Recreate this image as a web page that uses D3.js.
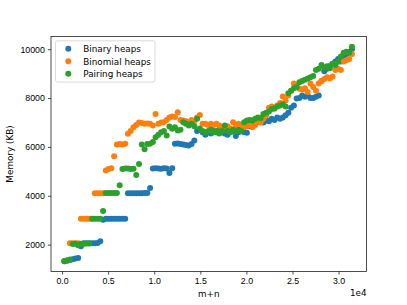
<!DOCTYPE html>
<html>
<head>
<meta charset="utf-8">
<script src="https://cdn.jsdelivr.net/npm/d3@7"></script>
<style>
  html, body { margin: 0; padding: 0; background: #fff; }
  svg { display: block; font-family: "DejaVu Sans", sans-serif; }
  .axis text { font-size: 8.8px; fill: #000; }
  .axis path, .axis line { stroke: #000; stroke-width: 0.7px; }
</style>
</head>
<body>
<svg id="chart" width="407" height="305"></svg>
<script>
// m+n sample points (shared by all three series)
const sizes = d3.range(105).map(i => 250 + 300 * i);

const binary = [
  1330, 1350, 1370, 1400, 1430, 1450, 1930, 2060, 2060, 2060,
  2060, 2060, 2070, 2140, 3020, 3060, 3060, 3060, 3060, 3060,
  3060, 3060, 3060, 4100, 4100, 4100, 4100, 4100, 4100, 4110,
  4110, 4320, 5120, 5130, 5120, 5110, 5130, 5120, 4930, 5130,
  6130, 6140, 6120, 6100, 6080, 6060, 6120, 6260, 6650, 6700,
  6600, 6500, 6600, 6550, 6650, 6600, 6700, 6600, 6550, 6500,
  6600, 6650, 6450, 6600, 6650, 6600, 6580, 6850, 6950, 7000,
  7020, 7050, 7000, 7080, 7050, 7150, 7100, 7200, 7150, 7200,
  7300, 7400, 7600, 7700, 7980, 8000, 8100, 8050, 8100, 8000,
  8000, 8050, 8100, 8700, 9100, 9200, 9300, 9400, 9500, 9600,
  9500, 9700, 9800, 9900, 10000
];

const binomial = [
  1320, 1340, 2060, 2060, 2060, 2060, 3060, 3060, 3060, 3060,
  3060, 4100, 4100, 4100, 4100, 5030, 5100, 5130, 5620, 6100,
  6120, 6100, 6130, 6540, 6650, 6800, 6900, 7000, 6980, 6950,
  6960, 6950, 6880, 7350, 6950, 7000, 7010, 7100, 7200, 7250,
  7220, 7420, 7100, 7080, 7050, 7010, 7100, 7050, 7200, 7310,
  6950, 6950, 6900, 6950, 6900, 6950, 6880, 6800, 6700, 6850,
  6750, 7010, 6900, 6950, 6850, 6800, 6850, 6950, 6800, 6900,
  7050, 7000, 7150, 7280, 7600, 7650, 7560, 7700, 7800, 8060,
  7900, 8100, 8300, 8600, 8450, 8380, 8350, 8400, 8250, 8600,
  8450, 8300, 8600, 8700, 8780, 8850, 8800, 8880, 9150, 9200,
  9150, 9500, 9550, 9600, 9800
];

const pairing = [
  1320, 1350, 1390, 2030, 2040, 1970, 2040, 2040, 2050, 2050,
  3060, 3060, 3060, 3060, 3380, 4110, 4110, 4110, 4110, 4110,
  4430, 5100, 5120, 5120, 5100, 5110, 4850, 5300, 6100, 5900,
  6120, 6130, 6200, 6400, 6500, 6600, 6650, 6470, 6840, 6740,
  6800, 6670, 6700, 7010, 6950, 6880, 6950, 6850, 7150, 6750,
  6650, 6600, 6650, 6700, 6600, 6650, 6550, 6650, 6880, 6650,
  6600, 6700, 6650, 6700, 6650, 7010, 7080, 7100, 7080, 7150,
  7200, 7180, 7350, 7400, 7450, 7550, 7580, 7650, 7700, 7750,
  7650, 8200, 8300, 8400, 8450, 8650, 8700, 8750, 8800, 8850,
  8900, 9150, 9200, 9350, 9250, 9300, 9220, 9400, 9350, 9490,
  9700, 9850, 9900, 9850, 10100
];

const seriesNames = ['Binary heaps', 'Binomial heaps', 'Pairing heaps'];
const seriesColors = ['#1f77b4', '#ff7f0e', '#2ca02c'];
const xTicks = [0, 5000, 10000, 15000, 20000, 25000, 30000];
const yTicks = [2000, 4000, 6000, 8000, 10000];

const margin = { left: 51, right: 40.5, top: 36.5, bottom: 33.5 };
const width = 407 - margin.left - margin.right;
const height = 305 - margin.top - margin.bottom;
const dotR = 3;

const svg = d3.select('#chart');
const g = svg.append('g')
  .attr('transform', `translate(${margin.left},${margin.top})`);

const x = d3.scaleLinear().domain([-1200, 33030]).range([0, width]);
const y = d3.scaleLinear().domain([900, 10520]).range([height, 0]);

// axes
g.append('g')
  .attr('class', 'axis')
  .attr('transform', `translate(0,${height})`)
  .call(d3.axisBottom(x).tickValues(xTicks).tickSize(3.1).tickPadding(3)
    .tickFormat(d => (d / 1e4).toFixed(1)))
  .call(a => a.select('.domain').remove());

g.append('g')
  .attr('class', 'axis')
  .call(d3.axisLeft(y).tickValues(yTicks).tickSize(3.1).tickPadding(3)
    .tickFormat(d3.format('d')))
  .call(a => a.select('.domain').remove());

// points, drawn in matplotlib order (green last, on top)
[binary, binomial, pairing].forEach((vals, k) => {
  g.append('g')
    .selectAll('circle')
    .data(sizes.map((s, i) => ({ x: s, y: vals[i] })))
    .enter()
      .append('circle')
      .attr('cx', d => x(d.x))
      .attr('cy', d => y(d.y))
      .attr('r', dotR)
      .attr('fill', seriesColors[k]);
});

// frame
g.append('rect')
  .attr('width', width)
  .attr('height', height)
  .attr('fill', 'none')
  .attr('stroke', '#000')
  .attr('stroke-width', 0.7);

// legend
const legend = g.append('g').attr('transform', 'translate(4.5,4.3)');
legend.append('rect')
  .attr('width', 99.5)
  .attr('height', 41.3)
  .attr('rx', 2)
  .attr('fill', '#fff')
  .attr('fill-opacity', 0.8)
  .attr('stroke', '#cccccc')
  .attr('stroke-width', 0.7);

const items = legend.selectAll('.item')
  .data(seriesNames)
  .enter()
    .append('g')
    .attr('class', 'item')
    .attr('transform', (d, i) => `translate(0,${8 + i * 12.5})`);

items.append('circle')
  .attr('cx', 12.8)
  .attr('cy', 0)
  .attr('r', dotR)
  .attr('fill', (d, i) => seriesColors[i]);

items.append('text')
  .attr('x', 27.8)
  .attr('y', 3.2)
  .attr('font-size', 8.8)
  .text(d => d);

// labels
svg.append('text')
  .attr('x', margin.left + width / 2)
  .attr('y', 297)
  .attr('text-anchor', 'middle')
  .attr('font-size', 8.8)
  .text('m+n');

svg.append('text')
  .attr('x', margin.left + width)
  .attr('y', 296)
  .attr('text-anchor', 'end')
  .attr('font-size', 8.8)
  .text('1e4');

svg.append('text')
  .attr('transform', `translate(12.5,${margin.top + height / 2}) rotate(-90)`)
  .attr('text-anchor', 'middle')
  .attr('font-size', 8.8)
  .text('Memory (KB)');
</script>
</body>
</html>
